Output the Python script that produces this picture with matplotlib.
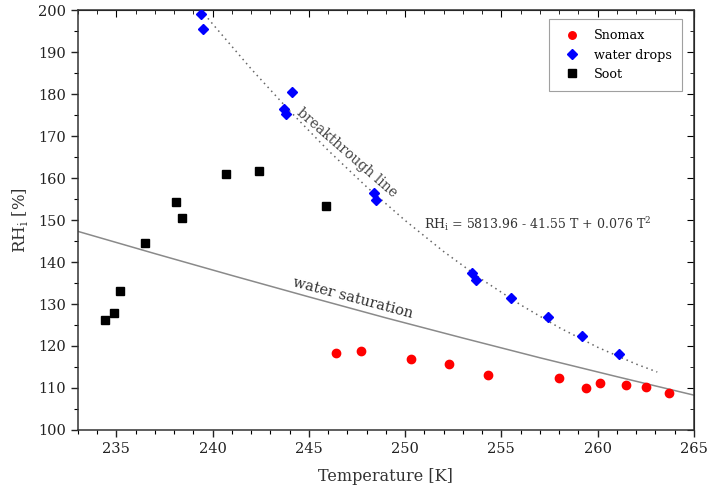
import matplotlib.pyplot as plt
from matplotlib.ticker import MultipleLocator

plt.rcParams['font.family'] = ['DejaVu Serif']

# Snomax (red circles)
snomax_T = [246.4, 247.7, 250.3, 252.3, 254.3, 258.0, 259.4, 260.1, 261.5, 262.5, 263.7]
snomax_RH = [118.3, 118.9, 116.8, 115.8, 113.2, 112.3, 110.0, 111.3, 110.7, 110.3, 108.8]

# water drops (blue diamonds)
drops_T = [239.4, 239.5, 244.1, 243.7, 243.8, 248.4, 248.5, 253.5, 253.7, 255.5, 257.4, 259.2, 261.1]
drops_RH = [199.0, 195.4, 180.4, 176.4, 175.3, 156.5, 154.7, 137.5, 135.8, 131.5, 126.8, 122.4, 118.0]

# Soot (black squares)
soot_T = [234.4, 234.9, 235.2, 236.5, 238.1, 238.4, 240.7, 242.4, 245.9]
soot_RH = [126.1, 127.8, 133.0, 144.6, 154.4, 150.6, 160.9, 161.6, 153.3]

# breakthrough line (dotted)
break_T = [239.4, 240, 242, 244, 246, 248, 250, 252, 254, 256, 258, 260, 262, 263.1]
break_RH = [200.0, 196.7, 186.0, 176.0, 166.6, 157.9, 149.9, 142.5, 135.8, 129.8, 124.4, 119.7, 115.7, 113.8]

# water saturation line (solid grey)
sat_T = [233, 237, 241, 245, 249, 253, 257, 261, 265]
sat_RH = [147.3, 142.0, 136.8, 131.7, 126.7, 121.9, 117.2, 112.7, 108.3]

fig = plt.figure(figsize=(7.08, 4.94), dpi=100)
ax = fig.add_axes([0.110, 0.1296, 0.870, 0.850])

ax.plot(sat_T, sat_RH, color='#8a8a8a', lw=1.1, zorder=1)
ax.plot(break_T, break_RH, color='#666666', lw=1.1, ls=(0, (1, 2.5)), zorder=1)

ax.plot(snomax_T, snomax_RH, 'o', color='#ff0000', ms=6, ls='none', label='Snomax', zorder=3)
ax.plot(drops_T, drops_RH, 'D', color='#0000ff', ms=5.5, ls='none', label='water drops', zorder=3)
ax.plot(soot_T, soot_RH, 's', color='#000000', ms=6, ls='none', label='Soot', zorder=3)

ax.set_xlim(233, 265)
ax.set_ylim(100, 200)
ax.xaxis.set_major_locator(MultipleLocator(5))
ax.xaxis.set_minor_locator(MultipleLocator(1))
ax.yaxis.set_major_locator(MultipleLocator(10))
ax.yaxis.set_minor_locator(MultipleLocator(5))
ax.tick_params(which='major', direction='out', length=5, width=1, labelsize=10.5, colors='#222222')
ax.tick_params(which='minor', direction='out', length=3, width=0.8)

# inward ticks on top and right
top = ax.secondary_xaxis('top')
top.xaxis.set_major_locator(MultipleLocator(5))
top.xaxis.set_minor_locator(MultipleLocator(1))
top.tick_params(which='major', direction='in', length=5, labeltop=False)
top.tick_params(which='minor', direction='in', length=3)
right = ax.secondary_yaxis('right')
right.yaxis.set_major_locator(MultipleLocator(10))
right.yaxis.set_minor_locator(MultipleLocator(5))
right.tick_params(which='major', direction='in', length=5, labelright=False)
right.tick_params(which='minor', direction='in', length=3)

for sp in ax.spines.values():
    sp.set_linewidth(1.1)
    sp.set_color('#333333')

ax.set_xlabel('Temperature [K]', fontsize=11.5, color='#333333', labelpad=9)
ax.set_ylabel(r'RH$_\mathregular{i}$ [%]', fontsize=12, color='#333333', labelpad=6)

ax.text(247.0, 166.0, 'breakthrough line', rotation=-41, fontsize=10, color='#444444',
        ha='center', va='center', rotation_mode='anchor')
ax.text(247.3, 131.3, 'water saturation', rotation=-15, fontsize=10.5, color='#333333',
        ha='center', va='center', rotation_mode='anchor')
ax.text(251.0, 149.0, r'RH$_\mathregular{i}$ = 5813.96 - 41.55 T + 0.076 T$^\mathregular{2}$',
        fontsize=9, color='#333333', ha='left', va='center')

leg = ax.legend(loc='upper right', bbox_to_anchor=(0.981, 0.979), borderaxespad=0,
                fontsize=9.2, frameon=True, fancybox=False, edgecolor='#888888',
                handletextpad=0.7, borderpad=0.8, labelspacing=0.5, markerscale=0.9)
leg.get_frame().set_linewidth(0.8)

fig.savefig('out.png', dpi=100)
